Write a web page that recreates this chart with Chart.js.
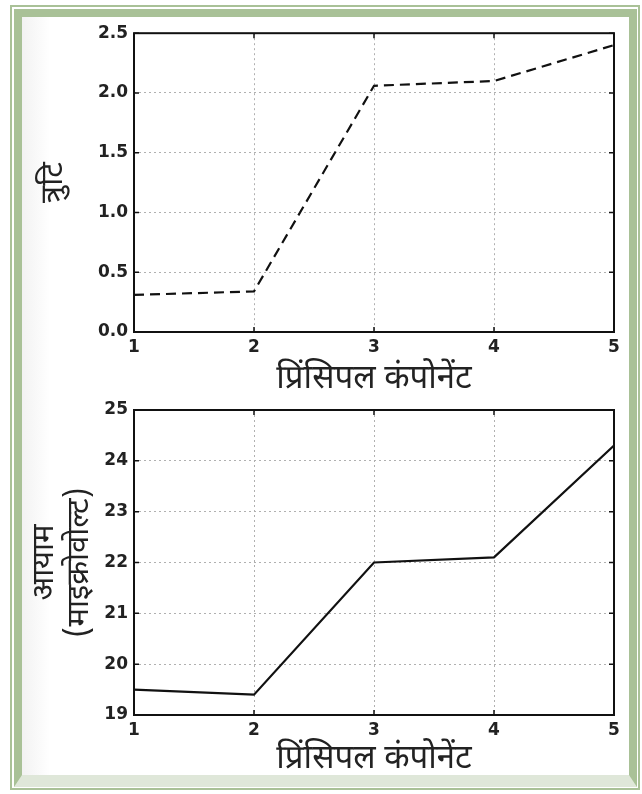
<!DOCTYPE html>
<html>
<head>
<meta charset="utf-8">
<script src="https://cdn.jsdelivr.net/npm/chart.js@4"></script>
<style>
  body { margin: 0; width: 642px; height: 794px; background: #fff; position: relative; overflow: hidden; }
  .frame-outer { position: absolute; left: 10px; top: 5px; width: 626px; height: 781px; border: 2px solid #a9c197; }
  .frame { position: absolute; left: 14px; top: 9px; width: 607px; height: 758px; border: 8px solid #a9c197; border-bottom: 12px solid #dfe7d9;
           background: linear-gradient(to right, #f2f2f2 0px, #ffffff 28px); }
  canvas { position: absolute; }
</style>
</head>
<body>
<div class="frame-outer"></div>
<div class="frame"></div>
<canvas id="chart-error" style="left:22px;top:17px" width="607" height="385"></canvas>
<canvas id="chart-amp" style="left:22px;top:392px" width="607" height="388"></canvas>
<script>
const components = [1, 2, 3, 4, 5];
const errorValues = [0.31, 0.34, 2.06, 2.10, 2.40];
const amplitudeValues = [19.5, 19.4, 22.0, 22.1, 24.3];

const xTitle = 'प्रिंसिपल कंपोनेंट';
const errorTitle = 'त्रुटि';
const ampTitle = ['आयाम', '(माइक्रोवोल्ट)'];

const tickFont = { family: 'DejaVu Sans', size: 17, weight: 'bold' };
const titleFont = { family: '"Noto Sans Devanagari", "Lohit Devanagari", "Noto Sans", sans-serif', size: 33, weight: 'normal', lineHeight: 1.1 };

// box around the plot + small inward ticks, matplotlib style
const framePlugin = {
    id: 'frame',
    afterDraw(chart) {
        const { ctx, chartArea: a, scales } = chart;
        ctx.save();
        ctx.strokeStyle = '#111';
        ctx.lineWidth = 1.5;
        ctx.beginPath();
        scales.x.ticks.forEach(t => {
            const px = scales.x.getPixelForValue(t.value);
            ctx.moveTo(px, a.bottom); ctx.lineTo(px, a.bottom - 5);
            ctx.moveTo(px, a.top); ctx.lineTo(px, a.top + 5);
        });
        scales.y.ticks.forEach(t => {
            const py = scales.y.getPixelForValue(t.value);
            ctx.moveTo(a.left, py); ctx.lineTo(a.left + 5, py);
            ctx.moveTo(a.right, py); ctx.lineTo(a.right - 5, py);
        });
        ctx.stroke();
        ctx.lineWidth = 2;
        ctx.strokeRect(a.left, a.top, a.right - a.left, a.bottom - a.top);
        ctx.restore();
    }
};

function makeChart(id, values, dash, yMin, yMax, yStep, yTitle, yTitlePad, yTitleFont, padTop, xHeight, xTitlePad, yDecimals) {
    return new Chart(document.getElementById(id), {
        type: 'line',
        data: {
            datasets: [{
                data: components.map((c, i) => ({ x: c, y: values[i] })),
                borderColor: '#111',
                borderWidth: 2.2,
                borderDash: dash,
                pointRadius: 0,
                tension: 0
            }]
        },
        options: {
            responsive: false,
            animation: false,
            layout: { padding: { top: padTop, right: 15, left: 0, bottom: 0 } },
            plugins: { legend: { display: false }, tooltip: { enabled: false } },
            scales: {
                x: {
                    type: 'linear', min: 1, max: 5,
                    afterFit: s => { s.height = xHeight; },
                    ticks: { stepSize: 1, color: '#222', font: tickFont, padding: 5 },
                    grid: { color: '#b0b0b0', lineWidth: 1, drawTicks: false },
                    border: { display: false, dash: [2, 3] },
                    title: { display: true, text: xTitle, color: '#222', font: titleFont, padding: { top: 0, bottom: xTitlePad } }
                },
                y: {
                    min: yMin, max: yMax,
                    afterFit: s => { s.width = 112; },
                    ticks: { stepSize: yStep, color: '#222', font: tickFont, padding: 6,
                             callback: v => v.toFixed(yDecimals) },
                    grid: { color: '#b0b0b0', lineWidth: 1, drawTicks: false },
                    border: { display: false, dash: [2, 3] },
                    title: { display: true, text: yTitle, color: '#222', font: yTitleFont, padding: yTitlePad }
                }
            }
        },
        plugins: [framePlugin]
    });
}

makeChart('chart-error', errorValues, [10, 6], 0, 2.5, 0.5, errorTitle, { top: 17, bottom: 0 },
          { ...titleFont, size: 31 }, 13, 70, 2, 1);
makeChart('chart-amp', amplitudeValues, [], 19, 25, 1, ampTitle, { top: 7, bottom: 0 },
          { ...titleFont, size: 31, lineHeight: 1.15 }, 18, 65, 0, 0);
</script>
</body>
</html>
